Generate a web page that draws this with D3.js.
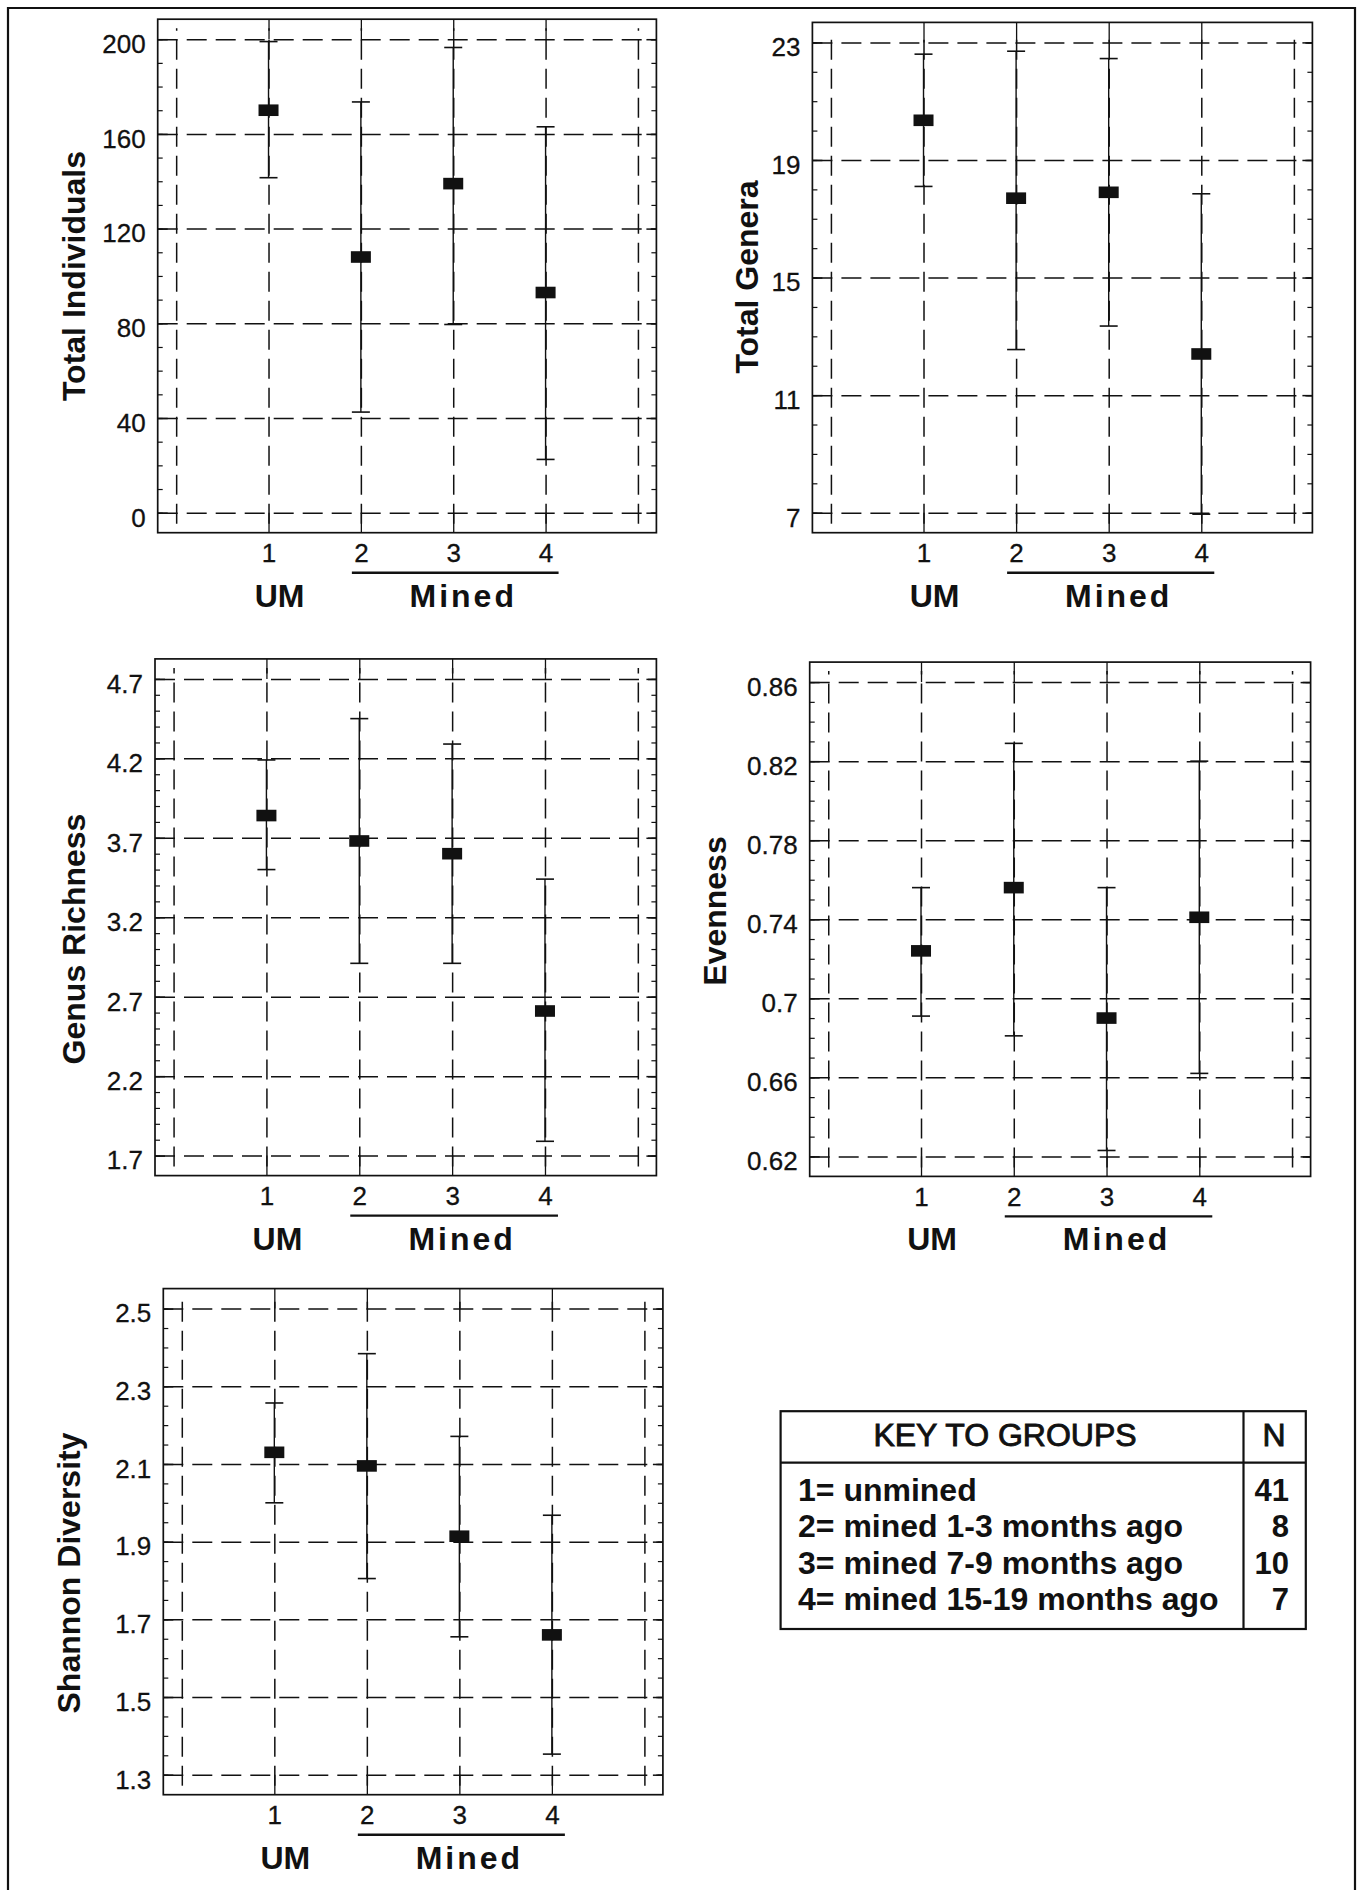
<!DOCTYPE html>
<html>
<head>
<meta charset="utf-8">
<script src="https://cdn.jsdelivr.net/npm/d3@7"></script>
<style>
  body { margin: 0; background: #fff; }
  svg text { font-family: "Liberation Sans", Arial, Helvetica, sans-serif; fill: #111; }
</style>
</head>
<body>
<svg id="chart" width="1366" height="1890"></svg>
<script>
// groups along the x axis (1 = unmined, 2-4 = mined)
var groups = [1, 2, 3, 4];
var gridX = [0, 1, 2, 3, 4, 5];

var individualsMean = [170, 108, 139, 93];
var individualsLow  = [141.5, 42.5, 79.5, 22.5];
var individualsHigh = [199, 173.5, 196.5, 163];
var individualsTicks = [0, 40, 80, 120, 160, 200];

var generaMean = [20.35, 17.7, 17.9, 12.4];
var generaLow  = [18.1, 12.55, 13.35, 6.95];
var generaHigh = [22.6, 22.7, 22.45, 17.85];
var generaTicks = [7, 11, 15, 19, 23];

var richnessMean = [3.84, 3.68, 3.6, 2.61];
var richnessLow  = [3.5, 2.91, 2.91, 1.79];
var richnessHigh = [4.19, 4.45, 4.29, 3.44];
var richnessTicks = [1.7, 2.2, 2.7, 3.2, 3.7, 4.2, 4.7];

var evennessMean = [0.724, 0.756, 0.69, 0.741];
var evennessLow  = [0.691, 0.681, 0.623, 0.662];
var evennessHigh = [0.756, 0.829, 0.756, 0.82];
var evennessTicks = [0.62, 0.66, 0.7, 0.74, 0.78, 0.82, 0.86];

var shannonMean = [2.13, 2.095, 1.914, 1.66];
var shannonLow  = [2.0, 1.805, 1.655, 1.353];
var shannonHigh = [2.257, 2.384, 2.171, 1.968];
var shannonTicks = [1.3, 1.5, 1.7, 1.9, 2.1, 2.3, 2.5];

var keyTitle = "KEY TO GROUPS";
var keyLabels = ["1= unmined", "2= mined 1-3 months ago",
                 "3= mined 7-9 months ago", "4= mined 15-19 months ago"];
var keyN = [41, 8, 10, 7];

(function () {
  var ink = "#111";
  var svg = d3.select("svg#chart");

  var panels = [
    {label: "Total Individuals", mean: individualsMean, lo: individualsLow, hi: individualsHigh,
     ticks: individualsTicks, minor: 10, left: 157.7, right: 656.4, top: 19.2, bottom: 532.7, lx: 85, ly: 276},
    {label: "Total Genera", mean: generaMean, lo: generaLow, hi: generaHigh,
     ticks: generaTicks, minor: 1, left: 812.4, right: 1312.4, top: 22.4, bottom: 532.7, lx: 758, ly: 277},
    {label: "Genus Richness", mean: richnessMean, lo: richnessLow, hi: richnessHigh,
     ticks: richnessTicks, minor: 0.1, left: 155, right: 656.4, top: 658.9, bottom: 1175.6, lx: 85, ly: 939},
    {label: "Evenness", mean: evennessMean, lo: evennessLow, hi: evennessHigh,
     ticks: evennessTicks, minor: 0.01, left: 809.7, right: 1310.6, top: 662.1, bottom: 1176.4, lx: 726, ly: 911},
    {label: "Shannon Diversity", mean: shannonMean, lo: shannonLow, hi: shannonHigh,
     ticks: shannonTicks, minor: 0.05, left: 163.3, right: 662.9, top: 1288.6, bottom: 1794.7, lx: 80, ly: 1573}
  ];

  function styleLines(sel, width, dash) {
    sel.select(".domain").remove();
    sel.selectAll("line").attr("stroke", ink).attr("stroke-width", width)
       .attr("stroke-dasharray", dash || null);
  }

  function drawPanel(p) {
    var g = svg.append("g");
    var t = p.ticks, t0 = t[0], t1 = t[t.length - 1];
    var x = d3.scaleLinear().domain([-0.2, 5.2]).range([p.left, p.right]);
    var y = d3.scaleLinear().domain([t0, t1]).range([p.bottom - 20, p.top + 20]);
    var w = p.right - p.left;
    var nMinor = Math.round((t1 - t0) / p.minor);
    var minor = d3.range(0, nMinor + 1).map(i => t0 + i * p.minor);

    // dashed grid
    g.append("g").attr("transform", "translate(" + p.left + ",0)")
     .call(d3.axisLeft(y).tickValues(t).tickSize(-w).tickFormat(""))
     .call(s => styleLines(s, 1.5, "20,9"));
    var gh = y(t0) - y(t1) + 22;
    g.append("g").attr("transform", "translate(0," + (y(t0) + 11) + ")")
     .call(d3.axisBottom(x).tickValues(gridX).tickSize(-gh).tickFormat(""))
     .call(s => styleLines(s, 1.5, "20,9"));

    // solid ticks: minor and major on both sides, group ticks top and bottom
    g.append("g").attr("transform", "translate(" + p.left + ",0)")
     .call(d3.axisRight(y).tickValues(minor).tickSize(5).tickFormat(""))
     .call(s => styleLines(s, 1.2));
    g.append("g").attr("transform", "translate(" + p.right + ",0)")
     .call(d3.axisLeft(y).tickValues(minor).tickSize(5).tickFormat(""))
     .call(s => styleLines(s, 1.2));
    g.append("g").attr("transform", "translate(" + p.left + ",0)")
     .call(d3.axisRight(y).tickValues(t).tickSize(10).tickFormat(""))
     .call(s => styleLines(s, 1.5));
    g.append("g").attr("transform", "translate(" + p.right + ",0)")
     .call(d3.axisLeft(y).tickValues(t).tickSize(10).tickFormat(""))
     .call(s => styleLines(s, 1.5));
    g.append("g").attr("transform", "translate(0," + p.bottom + ")")
     .call(d3.axisBottom(x).tickValues(groups).tickSize(-20).tickFormat(""))
     .call(s => styleLines(s, 1.3));
    g.append("g").attr("transform", "translate(0," + p.top + ")")
     .call(d3.axisTop(x).tickValues(groups).tickSize(-20).tickFormat(""))
     .call(s => styleLines(s, 1.3));

    // frame
    g.append("rect").attr("x", p.left).attr("y", p.top)
     .attr("width", w).attr("height", p.bottom - p.top)
     .attr("fill", "none").attr("stroke", ink).attr("stroke-width", 1.7);

    // tick labels (printed a little below their grid line in the original)
    var ya = g.append("g").attr("transform", "translate(" + p.left + ",5)")
     .call(d3.axisLeft(y).tickValues(t).tickSize(0).tickPadding(12).tickFormat(d => String(d)));
    ya.select(".domain").remove();
    ya.attr("font-size", 26);
    var xa = g.append("g").attr("transform", "translate(0," + p.bottom + ")")
     .call(d3.axisBottom(x).tickValues(groups).tickSize(0).tickPadding(11).tickFormat(d => String(d)));
    xa.select(".domain").remove();
    xa.attr("font-size", 26);
    g.selectAll(".tick text").style("stroke", ink).style("stroke-width", 0.3);

    // error bars and means
    var bars = g.append("g").selectAll("g").data(groups).join("g");
    bars.append("line")
        .attr("x1", (d) => x(d)).attr("x2", (d) => x(d))
        .attr("y1", (d, i) => y(p.lo[i])).attr("y2", (d, i) => y(p.hi[i]))
        .attr("stroke", ink).attr("stroke-width", 1.4);
    bars.append("line")
        .attr("x1", (d) => x(d) - 9).attr("x2", (d) => x(d) + 9)
        .attr("y1", (d, i) => y(p.hi[i])).attr("y2", (d, i) => y(p.hi[i]))
        .attr("stroke", ink).attr("stroke-width", 1.6);
    bars.append("line")
        .attr("x1", (d) => x(d) - 9).attr("x2", (d) => x(d) + 9)
        .attr("y1", (d, i) => y(p.lo[i])).attr("y2", (d, i) => y(p.lo[i]))
        .attr("stroke", ink).attr("stroke-width", 1.6);
    bars.append("rect")
        .attr("x", (d) => x(d) - 10).attr("y", (d, i) => y(p.mean[i]) - 5.8)
        .attr("width", 20).attr("height", 11.6).attr("fill", ink);

    // group captions
    g.append("line").attr("x1", x(2) - 9).attr("x2", x(4) + 13)
     .attr("y1", p.bottom + 40).attr("y2", p.bottom + 40)
     .attr("stroke", ink).attr("stroke-width", 2.4);
    g.append("text").attr("x", x(1) + 11).attr("y", p.bottom + 74)
     .attr("text-anchor", "middle").style("font-size", "32px").style("font-weight", "bold")
     .text("UM");
    g.append("text").attr("x", x(3) + 10).attr("y", p.bottom + 74)
     .attr("text-anchor", "middle").style("font-size", "32px").style("font-weight", "bold")
     .style("letter-spacing", "3px").text("Mined");

    // y title
    g.append("text").attr("transform", "translate(" + p.lx + "," + p.ly + ") rotate(-90)")
     .attr("text-anchor", "middle").style("font-size", "32px").style("font-weight", "bold")
     .text(p.label);
  }

  panels.forEach(drawPanel);

  // outer border of the page
  svg.append("path").attr("d", "M8,1890V8H1355V1890")
     .attr("fill", "none").attr("stroke", ink).attr("stroke-width", 2.2);

  // key table
  var kx0 = 780.6, kx1 = 1305.8, kdiv = 1243.5, ky0 = 1411.2, kyh = 1462.6, ky1 = 1629;
  var key = svg.append("g");
  key.append("rect").attr("x", kx0).attr("y", ky0).attr("width", kx1 - kx0).attr("height", ky1 - ky0)
     .attr("fill", "none").attr("stroke", ink).attr("stroke-width", 2.2);
  key.append("line").attr("x1", kx0).attr("x2", kx1).attr("y1", kyh).attr("y2", kyh)
     .attr("stroke", ink).attr("stroke-width", 2.2);
  key.append("line").attr("x1", kdiv).attr("x2", kdiv).attr("y1", ky0).attr("y2", ky1)
     .attr("stroke", ink).attr("stroke-width", 2.2);
  key.append("text").attr("x", 1005).attr("y", 1446).attr("text-anchor", "middle")
     .style("font-size", "32px").style("stroke", ink).style("stroke-width", 0.9).text(keyTitle);
  key.append("text").attr("x", 1274).attr("y", 1446).attr("text-anchor", "middle")
     .style("font-size", "32px").style("stroke", ink).style("stroke-width", 0.9).text("N");
  var rowY = d3.scalePoint().domain(d3.range(keyLabels.length)).range([1500.5, 1610]);
  key.selectAll("text.lab").data(keyLabels).join("text").attr("class", "lab")
     .attr("x", 798).attr("y", (d, i) => rowY(i))
     .style("font-size", "32px").style("font-weight", "bold").text(d => d);
  key.selectAll("text.n").data(keyN).join("text").attr("class", "n")
     .attr("x", 1289).attr("y", (d, i) => rowY(i)).attr("text-anchor", "end")
     .style("font-size", "31px").style("font-weight", "bold").text(d => d);
})();
</script>
</body>
</html>
